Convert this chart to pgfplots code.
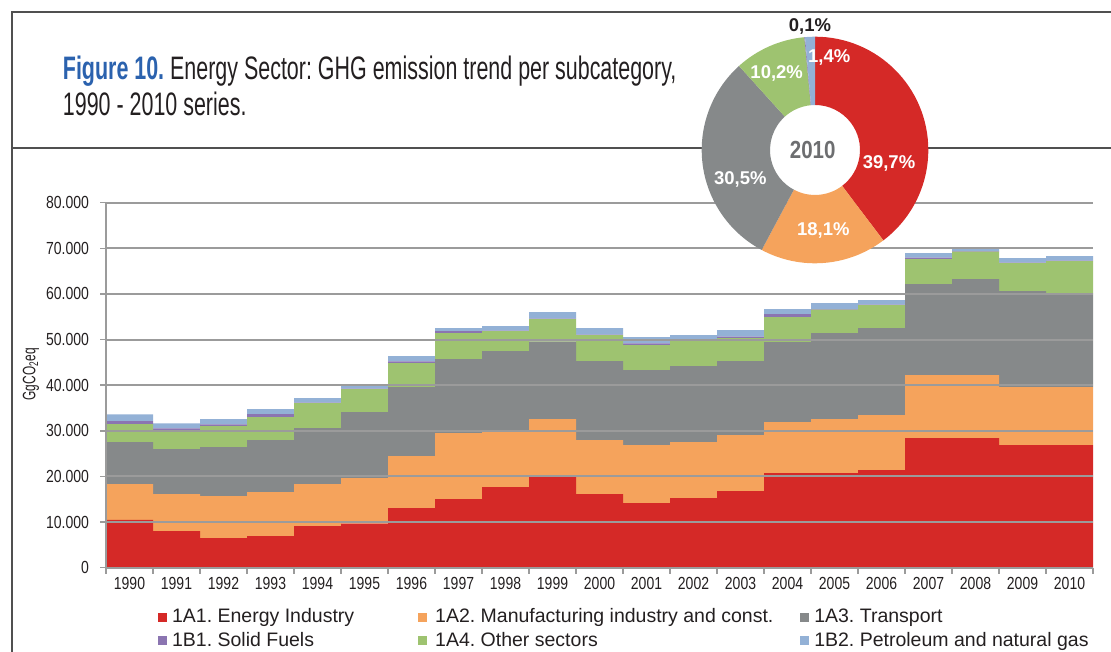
\documentclass[border=0pt]{standalone}
\usepackage{pgfplots}
\pgfplotsset{compat=1.18}
\usepackage{pgfplotstable}
\usepackage{fontspec}
\setmainfont{Liberation Sans}
\newfontfamily\condfont{Liberation Sans}[FakeStretch=0.66]
\newfontfamily\tickfont{Liberation Sans}[FakeStretch=0.8]
\newfontfamily\numfont{Liberation Sans}[FakeStretch=0.83]
\frenchspacing

\definecolor{c1}{HTML}{D52927}
\definecolor{c2}{HTML}{F5A35C}
\definecolor{c3}{HTML}{86898A}
\definecolor{c4}{HTML}{9EC370}
\definecolor{c5}{HTML}{8B75B1}
\definecolor{c6}{HTML}{93B1D6}
\definecolor{axgray}{HTML}{9B9B9B}
\definecolor{framegray}{HTML}{505050}
\definecolor{titleblue}{HTML}{2B62AE}
\definecolor{txt}{HTML}{231F20}
\definecolor{lab2010}{HTML}{6D6E70}

% GgCO2eq per subcategory (stack order: 1A1, 1A2, 1A3, 1A4, 1B1, 1B2)
\pgfplotstableread{
year a1 a2 a3 a4 b1 b2
1990 10500 7840 9200 3950 650 1470
1991 8040 8110 9860 4020 500 1100
1992 6500 9200 10750 4600 370 1170
1993 6940 9640 11400 5040 660 1100
1994 9130 9210 12270 5480 100 1000
1995 9640 10010 14470 5040 100 850
1996 13080 11390 15130 5260 360 1170
1997 15050 14460 16230 5690 440 660
1998 17680 12270 17540 4380 100 1000
1999 20310 12270 16950 4970 100 1440
2000 16150 11830 17320 5700 100 1430
2001 14170 12720 16430 5480 370 1390
2002 15270 12270 16660 5480 100 1210
2003 16800 12280 16220 5040 290 1460
2004 20750 11180 17530 5480 660 1090
2005 20750 11830 18850 5120 100 1360
2006 21410 12050 19070 5040 100 1000
2007 28420 13810 19950 5470 300 1020
2008 28420 13810 21040 5990 100 440
2009 26890 12710 21040 6140 100 990
2010 26890 12710 20600 7020 70 1020
}\emissions

% pie slice: #1 = cumulative start (%), #2 = cumulative end (%), #3 = colour
\newcommand\slice[3]{%
  \fill[#3] (axis cs:{cos(90-3.6*#1)},{sin(90-3.6*#1)})
    arc[start angle={90-3.6*#1}, end angle={90-3.6*#2}, radius=113.3pt]
    -- (axis cs:{0.397*cos(90-3.6*#2)},{0.397*sin(90-3.6*#2)})
    arc[start angle={90-3.6*#2}, end angle={90-3.6*#1}, radius=45pt] -- cycle;}

\begin{document}
\begin{tikzpicture}
\useasboundingbox (0,0) rectangle (1111pt,652pt);
\draw[framegray, line width=1.3pt] (12pt,0pt) -- (12pt,640pt) -- (1111pt,640pt);
\draw[framegray, line width=1.3pt] (12pt,504pt) -- (1111pt,504pt);
\node[anchor=base west, inner sep=0pt, text=txt, font=\fontsize{32.5}{36}\selectfont\condfont]
  at (62.7pt,572pt) {\textcolor{titleblue}{\bfseries Figure 10.} Energy Sector: GHG emission trend per subcategory,};
\node[anchor=base west, inner sep=0pt, text=txt, font=\fontsize{32.5}{36}\selectfont\condfont]
  at (62.7pt,536pt) {1990 - 2010 series.};

\begin{axis}[
  at={(106pt,84.3pt)}, anchor=south west,
  scale only axis, width=987pt, height=365pt,
  xmin=-0.5, xmax=20.5, ymin=0, ymax=80000,
  ybar stacked, bar width=1,
  axis on top,
  axis x line*=bottom, axis y line*=left,
  axis line style={draw=axgray, line width=2pt},
  ymajorgrids, grid style={draw=axgray, line width=2pt},
  ytick={0,10000,...,80000}, scaled y ticks=false,
  /pgf/number format/assume math mode=true,
  yticklabel style={/pgf/number format/1000 sep={.}, xshift=-7.6pt},
  xtick={-0.5,0.5,...,20.5}, xticklabels={},
  extra x ticks={0,1,...,20},
  extra x tick labels={1990,1991,1992,1993,1994,1995,1996,1997,1998,1999,2000,2001,2002,2003,2004,2005,2006,2007,2008,2009,2010},
  extra x tick style={major tick length=0pt, grid=none, xticklabel style={yshift=-6.5pt}},
  tick style={draw=axgray, line width=1.5pt},
  major tick length=6pt, tick align=outside,
  tick label style={font=\fontsize{17.5}{20}\selectfont\tickfont, text=txt},
  ylabel={GgCO\textsubscript{2}eq},
  ylabel style={at={(axis description cs:-0.076,0.53)}, anchor=center, font=\fontsize{18}{20}\selectfont\condfont, text=txt},
]
\addplot[fill=c1, draw=none] table[x expr=\coordindex, y=a1]{\emissions};
\addplot[fill=c2, draw=none] table[x expr=\coordindex, y=a2]{\emissions};
\addplot[fill=c3, draw=none] table[x expr=\coordindex, y=a3]{\emissions};
\addplot[fill=c4, draw=none] table[x expr=\coordindex, y=a4]{\emissions};
\addplot[fill=c5, draw=none] table[x expr=\coordindex, y=b1]{\emissions};
\addplot[fill=c6, draw=none] table[x expr=\coordindex, y=b2]{\emissions};
\end{axis}

% legend
\begin{axis}[
  at={(0pt,0pt)}, anchor=south west, scale only axis, width=1111pt, height=652pt,
  xmin=0, xmax=1, ymin=0, ymax=1, hide axis,
  legend columns=3, legend cell align=left,
  legend style={at={(0.14221,0.0660)}, anchor=north west, draw=none, fill=none,
    inner sep=0pt, outer sep=0pt,
    font=\fontsize{19.5}{23}\selectfont, text=txt,
    nodes={inner sep=0pt, text height=14pt, text depth=5pt},
    row sep=4.3pt,
    /tikz/every odd column/.append style={column sep=6pt},
    /tikz/every even column/.append style={column sep=0pt}},
]
\addlegendimage{legend image code/.code={\fill[c1] (0pt,-2.3pt) rectangle (7.7pt,5.4pt);}}
\addlegendentry{\makebox[246pt][l]{1A1. Energy Industry}}
\addlegendimage{legend image code/.code={\fill[c2] (0pt,-2.3pt) rectangle (7.7pt,5.4pt);}}
\addlegendentry{\makebox[368pt][l]{\hspace{3pt}1A2. Manufacturing industry and const.}}
\addlegendimage{legend image code/.code={\fill[c3] (0pt,-2.3pt) rectangle (7.7pt,5.4pt);}}
\addlegendentry{1A3. Transport}
\addlegendimage{legend image code/.code={\fill[c5] (0pt,-2.3pt) rectangle (7.7pt,5.4pt);}}
\addlegendentry{\makebox[246pt][l]{1B1. Solid Fuels}}
\addlegendimage{legend image code/.code={\fill[c4] (0pt,-2.3pt) rectangle (7.7pt,5.4pt);}}
\addlegendentry{\makebox[368pt][l]{\hspace{3pt}1A4. Other sectors}}
\addlegendimage{legend image code/.code={\fill[c6] (0pt,-2.3pt) rectangle (7.7pt,5.4pt);}}
\addlegendentry{1B2. Petroleum and natural gas}
\end{axis}

% 2010 donut
\begin{axis}[
  at={(815pt,502pt)}, anchor=center, scale only axis, width=226.6pt, height=226.6pt,
  xmin=-1, xmax=1, ymin=-1, ymax=1, hide axis, clip=false,
]
\fill[white] (axis cs:0,0) circle[radius=45pt];
\slice{0}{39.7}{c1}
\slice{39.7}{57.8}{c2}
\slice{57.8}{88.3}{c3}
\slice{88.3}{98.5}{c4}
\slice{98.5}{98.6}{c5}
\slice{98.6}{100}{c6}
\node[font=\fontsize{18.5}{20}\selectfont\bfseries, text=white] at (axis cs:0.653,-0.115) {39,7\%};
\node[font=\fontsize{18.5}{20}\selectfont\bfseries, text=white] at (axis cs:0.073,-0.709) {18,1\%};
\node[font=\fontsize{18.5}{20}\selectfont\bfseries, text=white] at (axis cs:-0.659,-0.256) {30,5\%};
\node[font=\fontsize{18.5}{20}\selectfont\bfseries, text=white] at (axis cs:-0.338,0.673) {10,2\%};
\node[font=\fontsize{18.5}{20}\selectfont\bfseries, text=white] at (axis cs:0.126,0.818) {1,4\%};
\node[font=\fontsize{18.5}{20}\selectfont\bfseries, text=txt] at (axis cs:-0.044,1.086) {0,1\%};
\node[font=\fontsize{24.7}{26}\selectfont\numfont\bfseries, text=lab2010] at (axis cs:-0.02,-0.003) {2010};
\end{axis}
\end{tikzpicture}
\end{document}
